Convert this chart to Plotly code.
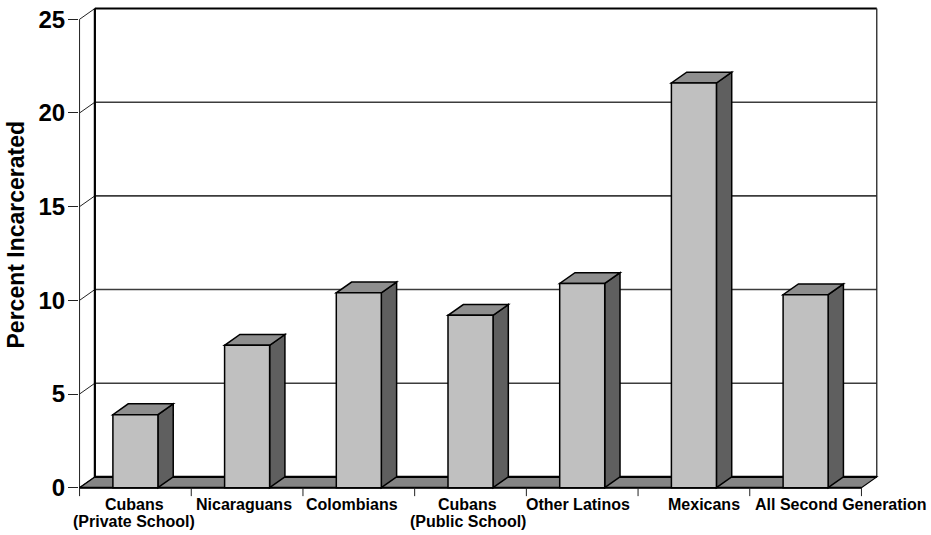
import plotly.graph_objects as go

# ---- data ----
categories = [
    "Cubans\n(Private School)",
    "Nicaraguans",
    "Colombians",
    "Cubans\n(Public School)",
    "Other Latinos",
    "Mexicans",
    "All Second Generation",
]
percent_incarcerated = [3.9, 7.6, 10.4, 9.2, 10.9, 21.6, 10.3]
y_ticks = [0, 5, 10, 15, 20, 25]

# ---- geometry / style ----
W, H = 931, 535
X0_PX = 80.0          # pixel of the front-left floor corner
CAT_PX = 111.64       # pixels per category
Y0_PX = 487.3         # pixel of value 0 on the front plane
UNIT_PX = 18.74       # pixels per percent
DEPTH_X = 15.3 / CAT_PX
DEPTH_Y = 10.8 / UNIT_PX
BAR_W = 0.403
N = len(categories)
Y_MAX = 25

x_lo, x_hi = -0.505, N - 0.5 + DEPTH_X + 0.02
y_lo, y_hi = -0.55, Y_MAX + DEPTH_Y + 0.08
margin_l = X0_PX + (x_lo + 0.5) * CAT_PX
margin_r = W - (X0_PX + (x_hi + 0.5) * CAT_PX)
margin_t = Y0_PX - y_hi * UNIT_PX
margin_b = H - (Y0_PX - y_lo * UNIT_PX)

FRONT = "#C0C0C0"
TOP = "#8E8E8E"
SIDE = "#5F5F5F"
FLOOR = "#858585"
GRID = "#3C3C3C"
FONT = "Liberation Sans, Arial, Helvetica, sans-serif"
label_shift_px = [-1, -3, -7, -3, -4, 10, 35]


def poly(points):
    return "M " + " L ".join(f"{x},{y}" for x, y in points) + " Z"


shapes = []


def line(x0, y0, x1, y1, color="black", width=1.0):
    shapes.append(dict(type="line", xref="x", yref="y", x0=x0, y0=y0, x1=x1, y1=y1,
                       line=dict(color=color, width=width), layer="above"))


def face(points, fill, width=1.5):
    shapes.append(dict(type="path", xref="x", yref="y", path=poly(points),
                       fillcolor=fill, line=dict(color="black", width=width), layer="above"))


left, right = -0.5, N - 0.5

# back wall gridlines
for t in y_ticks[1:-1]:
    line(left + DEPTH_X, t + DEPTH_Y, right + DEPTH_X, t + DEPTH_Y, GRID, 1.6)
# left side: front axis, diagonals to the back wall at each tick
line(left, 0, left, Y_MAX, "#222222", 1.0)
for t in y_ticks:
    line(left, t, left + DEPTH_X, t + DEPTH_Y, "#222222", 1.0)
# back wall frame
line(left + DEPTH_X, DEPTH_Y, left + DEPTH_X, Y_MAX + DEPTH_Y, "black", 2.2)
line(left + DEPTH_X, Y_MAX + DEPTH_Y, right + DEPTH_X, Y_MAX + DEPTH_Y, "black", 2.2)
line(right + DEPTH_X, DEPTH_Y, right + DEPTH_X, Y_MAX + DEPTH_Y, "#222222", 1.3)

# floor
face([(left, 0), (right, 0), (right + DEPTH_X, DEPTH_Y), (left + DEPTH_X, DEPTH_Y)], FLOOR, 1.2)
line(left + DEPTH_X, DEPTH_Y, right + DEPTH_X, DEPTH_Y, "black", 2.4)
line(left, 0, right, 0, "black", 2.0)

# category tick marks under the floor
for k in range(N + 1):
    line(k - 0.5, 0, k - 0.5, -0.45, "#222222", 1.0)

# bars: front, top and side faces
for i, v in enumerate(percent_incarcerated):
    xl, xr = i - BAR_W / 2, i + BAR_W / 2
    face([(xr, 0), (xr + DEPTH_X, DEPTH_Y), (xr + DEPTH_X, v + DEPTH_Y), (xr, v)], SIDE)
    face([(xl, v), (xr, v), (xr + DEPTH_X, v + DEPTH_Y), (xl + DEPTH_X, v + DEPTH_Y)], TOP)
    face([(xl, 0), (xr, 0), (xr, v), (xl, v)], FRONT)

# category labels, one annotation per line
annotations = []
for i, (name, shift) in enumerate(zip(categories, label_shift_px)):
    for j, part in enumerate(name.split("\n")):
        annotations.append(dict(
            x=i, y=0, xref="x", yref="y", text=part, showarrow=False,
            xanchor="center", yanchor="middle", xshift=shift, yshift=-16.5 - 17.3 * j,
            font=dict(family=FONT, size=16, color="black", weight="bold"),
        ))

# value-axis title, placed by pixel and converted to paper coordinates
plot_w = W - margin_l - margin_r
plot_h = H - margin_t - margin_b
annotations.append(dict(
    x=(16.5 - margin_l) / plot_w, y=(H - margin_b - 234) / plot_h,
    xref="paper", yref="paper", text="Percent Incarcerated", showarrow=False,
    textangle=-90, xanchor="center", yanchor="middle",
    font=dict(family=FONT, size=23, color="black", weight="bold"),
))

fig = go.Figure()
fig.update_layout(
    width=W, height=H,
    margin=dict(l=margin_l, r=margin_r, t=margin_t, b=margin_b, pad=0),
    paper_bgcolor="white", plot_bgcolor="white",
    showlegend=False,
    shapes=shapes,
    annotations=annotations,
    xaxis=dict(range=[x_lo, x_hi], showgrid=False, zeroline=False, showline=False,
               showticklabels=False, ticks="", fixedrange=True),
    yaxis=dict(range=[y_lo, y_hi], showgrid=False, zeroline=False, showline=False,
               tickmode="array", tickvals=y_ticks, ticktext=[str(t) for t in y_ticks],
               ticks="outside", ticklen=10, tickwidth=1, tickcolor="#222222",
               ticklabelstandoff=-2,
               tickfont=dict(family=FONT, size=24, color="black", weight="bold"),
               fixedrange=True),
)

fig.write_html("out.html")
